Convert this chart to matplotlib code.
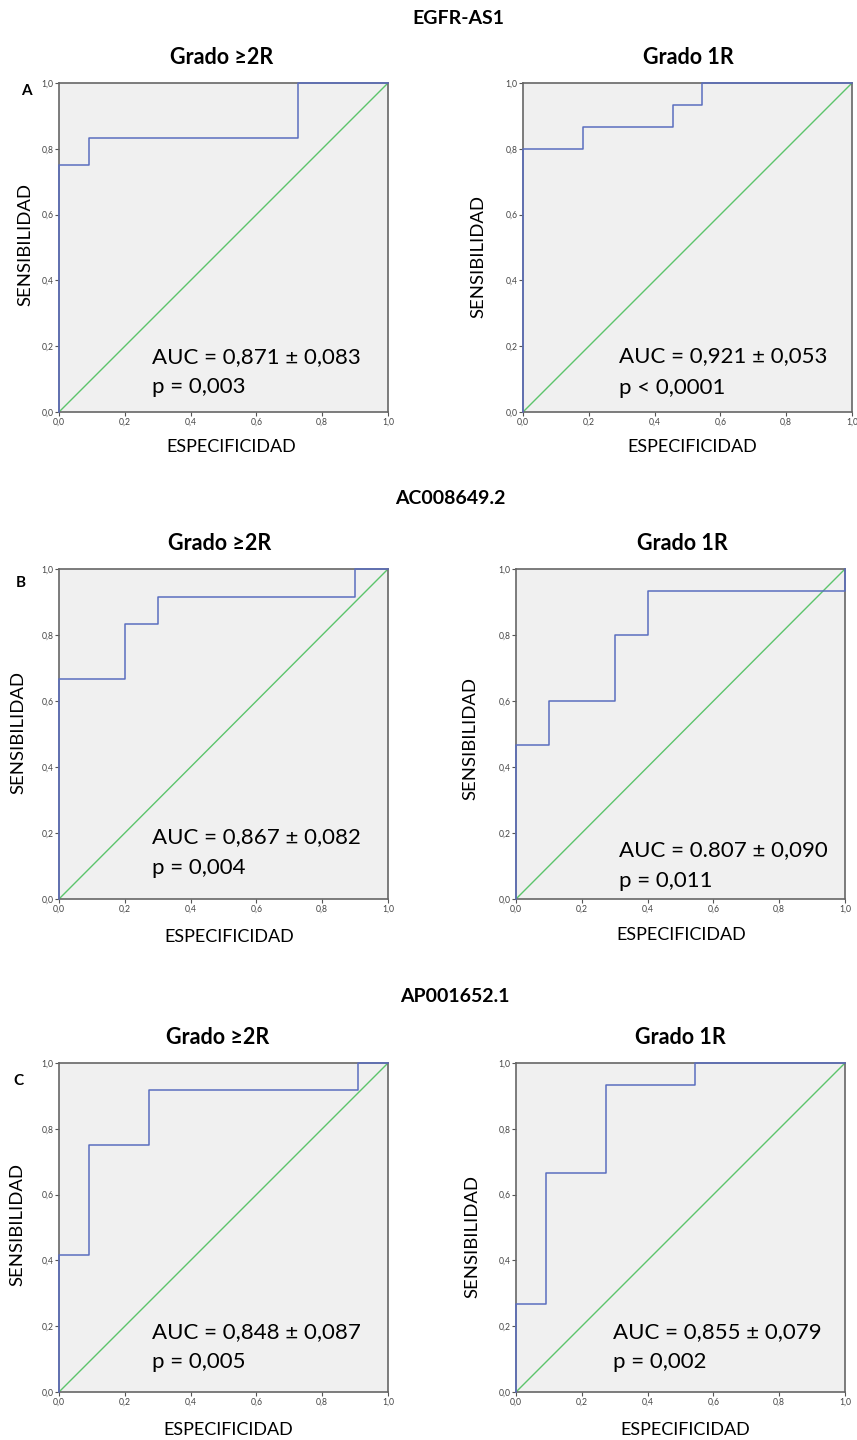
import matplotlib
matplotlib.use("Agg")
import matplotlib.pyplot as plt
import numpy as np

# ROC step curves (1 - especificidad, sensibilidad)
egfr_2r_x = [0, 0, 1/11, 1/11, 8/11, 8/11, 1]
egfr_2r_y = [0, 0.75, 0.75, 10/12, 10/12, 1, 1]
egfr_1r_x = [0, 0, 2/11, 2/11, 5/11, 5/11, 6/11, 6/11, 1]
egfr_1r_y = [0, 0.8, 0.8, 13/15, 13/15, 14/15, 14/15, 1, 1]

ac_2r_x = [0, 0, 0.2, 0.2, 0.3, 0.3, 0.9, 0.9, 1]
ac_2r_y = [0, 8/12, 8/12, 10/12, 10/12, 11/12, 11/12, 1, 1]
ac_1r_x = [0, 0, 0.1, 0.1, 0.3, 0.3, 0.4, 0.4, 1, 1]
ac_1r_y = [0, 7/15, 7/15, 0.6, 0.6, 0.8, 0.8, 14/15, 14/15, 1]

ap_2r_x = [0, 0, 1/11, 1/11, 3/11, 3/11, 10/11, 10/11, 1]
ap_2r_y = [0, 5/12, 5/12, 0.75, 0.75, 11/12, 11/12, 1, 1]
ap_1r_x = [0, 0, 1/11, 1/11, 3/11, 3/11, 6/11, 6/11, 1]
ap_1r_y = [0, 4/15, 4/15, 10/15, 10/15, 14/15, 14/15, 1, 1]

genes = ["EGFR-AS1", "AC008649.2", "AP001652.1"]
letters = ["A", "B", "C"]
grades = ["Grado \u22652R", "Grado 1R"]
auc_text = ["AUC = 0,871 \u00b1 0,083", "AUC = 0,921 \u00b1 0,053",
            "AUC = 0,867 \u00b1 0,082", "AUC = 0.807 \u00b1 0,090",
            "AUC = 0,848 \u00b1 0,087", "AUC = 0,855 \u00b1 0,079"]
p_text = ["p = 0,003", "p < 0,0001", "p = 0,004", "p = 0,011", "p = 0,005", "p = 0,002"]
ticks = [0, 0.2, 0.4, 0.6, 0.8, 1.0]
tick_labels = ["0,0", "0,2", "0,4", "0,6", "0,8", "1,0"]

curves = [(egfr_2r_x, egfr_2r_y), (egfr_1r_x, egfr_1r_y),
          (ac_2r_x, ac_2r_y), (ac_1r_x, ac_1r_y),
          (ap_2r_x, ap_2r_y), (ap_1r_x, ap_1r_y)]

W, H = 857, 1440
plt.rcParams['font.family'] = ['Lato', 'DejaVu Sans']
fig = plt.figure(figsize=(W / 100, H / 100), dpi=100)

# axes boxes in pixels: left, top, right, bottom
boxes = [(59, 83, 388, 412), (523, 83, 852, 412),
         (59, 569, 388, 899), (516, 569, 845, 899),
         (59, 1063, 388, 1392), (516, 1063, 845, 1392)]
text_pos = [(0.283, 0.167, 0.076), (0.292, 0.17, 0.073),
            (0.282, 0.188, 0.094), (0.313, 0.148, 0.054),
            (0.283, 0.182, 0.091), (0.295, 0.183, 0.092)]
ylab_pos = [(25, 244), (478, 256), (18, 732), (470, 739), (17, 1224), (472, 1236)]
xlab_pos = [(231, 447), (692, 447), (229, 937), (681, 935), (228, 1430), (685, 1430)]
gene_pos = [(458, 18), (450, 499), (455, 996)]
grade_pos = [[(222, 58), (688, 58)], [(220, 544), (682, 544)], [(218, 1037), (680, 1037)]]
letter_pos = [(26, 91), (21, 583), (18, 1081)]


def fx(x):
    return x / W


def fy(y):
    return 1 - y / H


blue = '#5a6ebf'
green = '#5cc46c'

for i, (x, y) in enumerate(curves):
    l, t, r, b = boxes[i]
    ax = fig.add_axes([fx(l), fy(b), (r - l) / W, (b - t) / H])
    ax.set_facecolor('#f0f0f0')
    ax.plot([0, 1], [0, 1], color=green, lw=1.0, zorder=2)
    ax.plot(x, y, color=blue, lw=1.1, zorder=3, clip_on=False)
    ax.set_xlim(0, 1)
    ax.set_ylim(0, 1)
    ax.set_xticks(ticks)
    ax.set_yticks(ticks)
    ax.set_xticklabels(tick_labels)
    ax.set_yticklabels(tick_labels)
    ax.tick_params(length=3, width=0.8, color='#555555', labelsize=6.2,
                   labelcolor='#444444', pad=1)
    for s in ax.spines.values():
        s.set_color('#666666')
        s.set_linewidth(1.2)
    tx, ty1, ty2 = text_pos[i]
    ax.text(tx, ty1, auc_text[i], fontsize=16, va='center', ha='left', color='black')
    ax.text(tx, ty2, p_text[i], fontsize=16, va='center', ha='left', color='black')
    fig.text(fx(ylab_pos[i][0]), fy(ylab_pos[i][1]), "SENSIBILIDAD", rotation=90,
             fontsize=13.3, ha='center', va='center')
    fig.text(fx(xlab_pos[i][0]), fy(xlab_pos[i][1]), "ESPECIFICIDAD",
             fontsize=13, ha='center', va='center')

for g in range(3):
    fig.text(fx(gene_pos[g][0]), fy(gene_pos[g][1]), genes[g], fontsize=14,
             fontweight='bold', ha='center', va='center')
    for k in range(2):
        gx, gy = grade_pos[g][k]
        fig.text(fx(gx), fy(gy), grades[k], fontsize=15.5, fontweight='bold',
                 ha='center', va='center', family=['Lato', 'DejaVu Sans'])
    fig.text(fx(letter_pos[g][0]), fy(letter_pos[g][1]), letters[g], fontsize=11,
             fontweight='bold', ha='center', va='center')

fig.savefig('out.png', dpi=100, facecolor='white')
